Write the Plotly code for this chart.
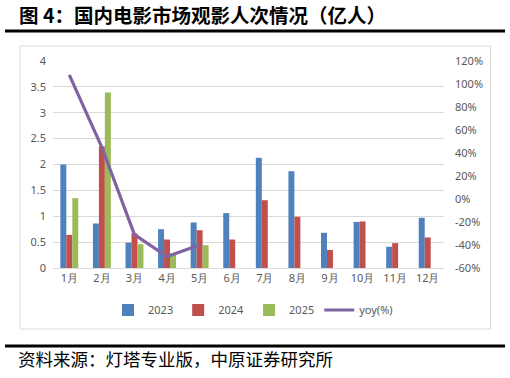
import plotly.graph_objects as go

months = ["1月", "2月", "3月", "4月", "5月", "6月", "7月", "8月", "9月", "10月", "11月", "12月"]
v2023 = [2.00, 0.86, 0.49, 0.75, 0.88, 1.06, 2.13, 1.87, 0.68, 0.89, 0.41, 0.97]
v2024 = [0.64, 2.35, 0.67, 0.55, 0.73, 0.55, 1.31, 0.99, 0.35, 0.90, 0.48, 0.59]
v2025 = [1.35, 3.39, 0.46, 0.28, 0.44]
yoy = [108, 45, -31, -50, -40]
left_ticks = [0, 0.5, 1, 1.5, 2, 2.5, 3, 3.5, 4]
right_ticks = [-60, -40, -20, 0, 20, 40, 60, 80, 100, 120]

L, R, T, B = 53, 66, 61, 110
W, H = 510, 378
pw = W - L - R
ph = H - T - B

def px(x):
    return (x - L) / pw

def py(y):
    return (H - B - y) / ph

tick_font = dict(family="Noto Sans, Liberation Sans, sans-serif", size=11, color="#595959")

fig = go.Figure()
fig.add_trace(go.Bar(x=months, y=v2023, name="2023", marker=dict(color="#4F81BD", line=dict(width=0))))
fig.add_trace(go.Bar(x=months, y=v2024, name="2024", marker=dict(color="#C0504D", line=dict(width=0))))
fig.add_trace(go.Bar(x=months[:len(v2025)], y=v2025, name="2025", marker=dict(color="#9BBB59", line=dict(width=0))))
fig.add_trace(go.Scatter(x=months[:len(yoy)], y=yoy, name="yoy(%)", mode="lines",
                         line=dict(color="#8064A2", width=3.2), yaxis="y2"))

fig.update_layout(
    width=W, height=H,
    margin=dict(l=L, r=R, t=T, b=B, autoexpand=False),
    paper_bgcolor="white", plot_bgcolor="white",
    barmode="group", bargap=0.45, bargroupgap=0,
    showlegend=True,
    legend=dict(orientation="h", x=px(253), xanchor="center", y=py(310), yanchor="middle",
                font=dict(family="Noto Sans, Liberation Sans, sans-serif", size=11, color="#595959"),
                itemwidth=30, traceorder="normal"),
    xaxis=dict(categoryorder="array", categoryarray=months, showgrid=False, showline=True,
               linecolor="#d9d9d9", linewidth=1, ticks="", tickfont=tick_font),
    yaxis=dict(range=[0, 4], tickvals=left_ticks, ticktext=[f"{t:g}" for t in left_ticks],
               showgrid=True, gridcolor="#d9d9d9", gridwidth=1, zeroline=False,
               showline=False, ticks="", tickfont=tick_font, ticklabelstandoff=6),
    yaxis2=dict(range=[-60, 120], tickvals=right_ticks, ticktext=[f"{t}%" for t in right_ticks],
                overlaying="y", side="right", showgrid=False, zeroline=False,
                showline=False, ticks="", tickfont=tick_font, ticklabelstandoff=10),
    font=dict(family="Noto Sans CJK SC"),
)

shapes = [
    dict(type="rect", xref="paper", yref="paper", x0=px(20), x1=px(490.5), y0=py(329), y1=py(46),
         line=dict(color="#d9d9d9", width=1), fillcolor="rgba(0,0,0,0)", layer="below"),
    dict(type="line", xref="paper", yref="paper", x0=px(5), x1=px(505), y0=py(31), y1=py(31),
         line=dict(color="black", width=3)),
    dict(type="line", xref="paper", yref="paper", x0=px(5), x1=px(505), y0=py(346), y1=py(346),
         line=dict(color="black", width=3)),
]
fig.update_layout(shapes=shapes)

fig.add_annotation(text="<b>图 4：国内电影市场观影人次情况（亿人）</b>", xref="paper", yref="paper",
                   x=px(17), y=py(14), xanchor="left", yanchor="middle", showarrow=False,
                   font=dict(family="Noto Sans CJK SC", size=19.5, color="black"))
fig.add_annotation(text="资料来源：灯塔专业版，中原证券研究所", xref="paper", yref="paper",
                   x=px(16), y=py(358), xanchor="left", yanchor="middle", showarrow=False,
                   font=dict(family="Noto Sans CJK SC", size=17.5, color="black"))

fig.write_html("out.html", config={"displayModeBar": False, "staticPlot": True},
               post_script="document.body.style.margin='0';document.body.style.overflow='hidden';")
